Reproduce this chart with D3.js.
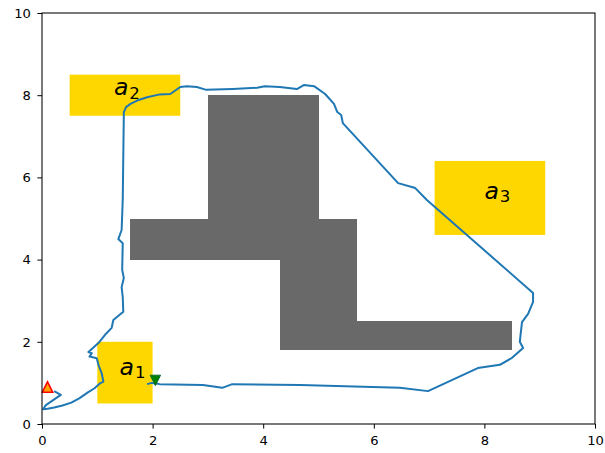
<!DOCTYPE html>
<html>
<head>
<meta charset="utf-8">
<script src="https://cdn.jsdelivr.net/npm/d3@7"></script>
<style>
  body { margin: 0; background: #fff; }
  svg { font-family: "DejaVu Sans", sans-serif; }
</style>
</head>
<body>
<svg id="viz" width="605" height="453"></svg>
<script>
/* Data */

const xTicks = [0, 2, 4, 6, 8, 10];
const yTicks = [0, 2, 4, 6, 8, 10];

// grey obstacles [x0, x1, y0, y1]
const obstacles = [
  [3.0, 5.0, 5.0, 8.0],
  [1.6, 5.7, 4.0, 5.0],
  [4.3, 5.7, 1.8, 4.0],
  [4.3, 8.5, 1.8, 2.5]
];

// yellow regions [x0, x1, y0, y1]
const regions = [
  [1.0, 2.0, 0.5, 2.0],
  [0.5, 2.5, 7.5, 8.5],
  [7.1, 9.1, 4.6, 6.4]
];
const regionNames = ['1', '2', '3'];
const labelPos = [[1.4, 1.2], [1.3, 8.0], [8.0, 5.47]];

// trajectory
const pathX = [1.90, 1.99, 2.13, 2.91, 3.26, 3.44, 4.67, 5.97, 6.47, 6.98, 7.88, 8.28, 8.50, 8.70,
  8.64, 8.68, 8.79, 8.88, 8.88, 6.96, 6.75, 6.44, 5.44, 5.41, 5.34, 5.28, 5.12, 4.92, 4.74, 4.61,
  4.30, 4.03, 3.89, 3.45, 2.97, 2.80, 2.62, 2.50, 2.32, 2.13, 1.90, 1.72, 1.60, 1.52, 1.48, 1.46,
  1.44, 1.38, 1.46, 1.45, 1.48, 1.44, 1.46, 1.47, 1.29, 1.26, 1.14, 1.02, 0.84, 0.90, 0.86, 0.99,
  1.02, 1.08, 1.11, 1.05, 0.95, 0.83, 0.68, 0.53, 0.37, 0.22, 0.10, 0.02, 0.07, 0.34, 0.22];
const pathY = [0.97, 1.00, 0.97, 0.95, 0.88, 0.97, 0.95, 0.90, 0.88, 0.80, 1.36, 1.44, 1.61, 1.85,
  2.00, 2.48, 2.68, 2.97, 3.19, 5.45, 5.74, 5.86, 7.32, 7.52, 7.59, 7.79, 8.03, 8.22, 8.25, 8.15,
  8.20, 8.22, 8.18, 8.15, 8.13, 8.20, 8.22, 8.20, 8.03, 8.02, 7.95, 7.87, 7.79, 7.71, 7.59, 5.45,
  4.72, 4.50, 4.40, 3.75, 3.55, 3.33, 3.09, 2.73, 2.53, 2.34, 2.17, 1.97, 1.75, 1.72, 1.64, 1.60,
  1.44, 1.23, 1.03, 0.99, 0.87, 0.77, 0.63, 0.52, 0.45, 0.40, 0.37, 0.36, 0.46, 0.71, 0.80];

const startPt = [0.1, 0.9];
const goalPt = [2.05, 1.06];

/* Visualization */

const margin = { left: 42, top: 13 };
const width = 553;
const height = 411;

const svg = d3.select('#viz');
const g = svg.append('g').attr('transform', `translate(${margin.left},${margin.top})`);

const x = d3.scaleLinear().domain([0, 10]).range([0, width]);
const y = d3.scaleLinear().domain([0, 10]).range([height, 0]);

// regions
g.append('g')
  .selectAll('rect')
  .data(regions)
  .join('rect')
  .attr('x', (d) => x(d[0]))
  .attr('y', (d) => y(d[3]))
  .attr('width', (d) => x(d[1]) - x(d[0]))
  .attr('height', (d) => y(d[2]) - y(d[3]))
  .attr('fill', '#ffd700');

// obstacles
g.append('g')
  .attr('shape-rendering', 'crispEdges')
  .selectAll('rect')
  .data(obstacles)
  .join('rect')
  .attr('x', (d) => x(d[0]))
  .attr('y', (d) => y(d[3]))
  .attr('width', (d) => x(d[1]) - x(d[0]))
  .attr('height', (d) => y(d[2]) - y(d[3]))
  .attr('fill', '#696969');

// trajectory
const line = d3
  .line()
  .x((i) => x(pathX[i]))
  .y((i) => y(pathY[i]));

g.append('path')
  .attr('d', line(d3.range(pathX.length)))
  .attr('fill', 'none')
  .attr('stroke', '#1f77b4')
  .attr('stroke-width', 2)
  .attr('stroke-linejoin', 'round');

// markers
const s = 5.2;
g.append('path')
  .attr('transform', `translate(${x(startPt[0])},${y(startPt[1])})`)
  .attr('d', `M0,${-s}L${s},${s}L${-s},${s}Z`)
  .attr('fill', 'orange')
  .attr('stroke', 'red')
  .attr('stroke-width', 1.6);

g.append('path')
  .attr('transform', `translate(${x(goalPt[0])},${y(goalPt[1])})`)
  .attr('d', `M0,${s}L${s},${-s}L${-s},${-s}Z`)
  .attr('fill', 'green')
  .attr('stroke', '#0a6e2a')
  .attr('stroke-width', 1);

// labels
const labels = g.append('g')
  .selectAll('text')
  .data(labelPos)
  .join('text')
  .attr('x', (d) => x(d[0]))
  .attr('y', (d) => y(d[1]));

labels.append('tspan')
  .attr('font-style', 'italic')
  .attr('font-size', '23.6px')
  .text('a');
labels.append('tspan')
  .attr('font-size', '16.5px')
  .attr('dx', 1)
  .attr('dy', 3.3)
  .text((_, i) => regionNames[i]);

// axes
const xAxis = g.append('g')
  .attr('transform', `translate(0,${height})`)
  .call(d3.axisBottom(x).tickValues(xTicks).tickSize(4.6).tickPadding(7.5));
const yAxis = g.append('g')
  .call(d3.axisLeft(y).tickValues(yTicks).tickSize(4.6).tickPadding(6.5));

[xAxis, yAxis].forEach((a) => {
  a.select('.domain').remove();
  a.selectAll('text').attr('font-size', '13.1px').attr('font-family', '"DejaVu Sans"').attr('fill', '#000');
  a.selectAll('line').attr('stroke', '#000').attr('stroke-width', 1);
});

// frame
g.append('rect')
  .attr('width', width)
  .attr('height', height)
  .attr('fill', 'none')
  .attr('stroke', '#000')
  .attr('stroke-width', 1.05);
</script>
</body>
</html>
